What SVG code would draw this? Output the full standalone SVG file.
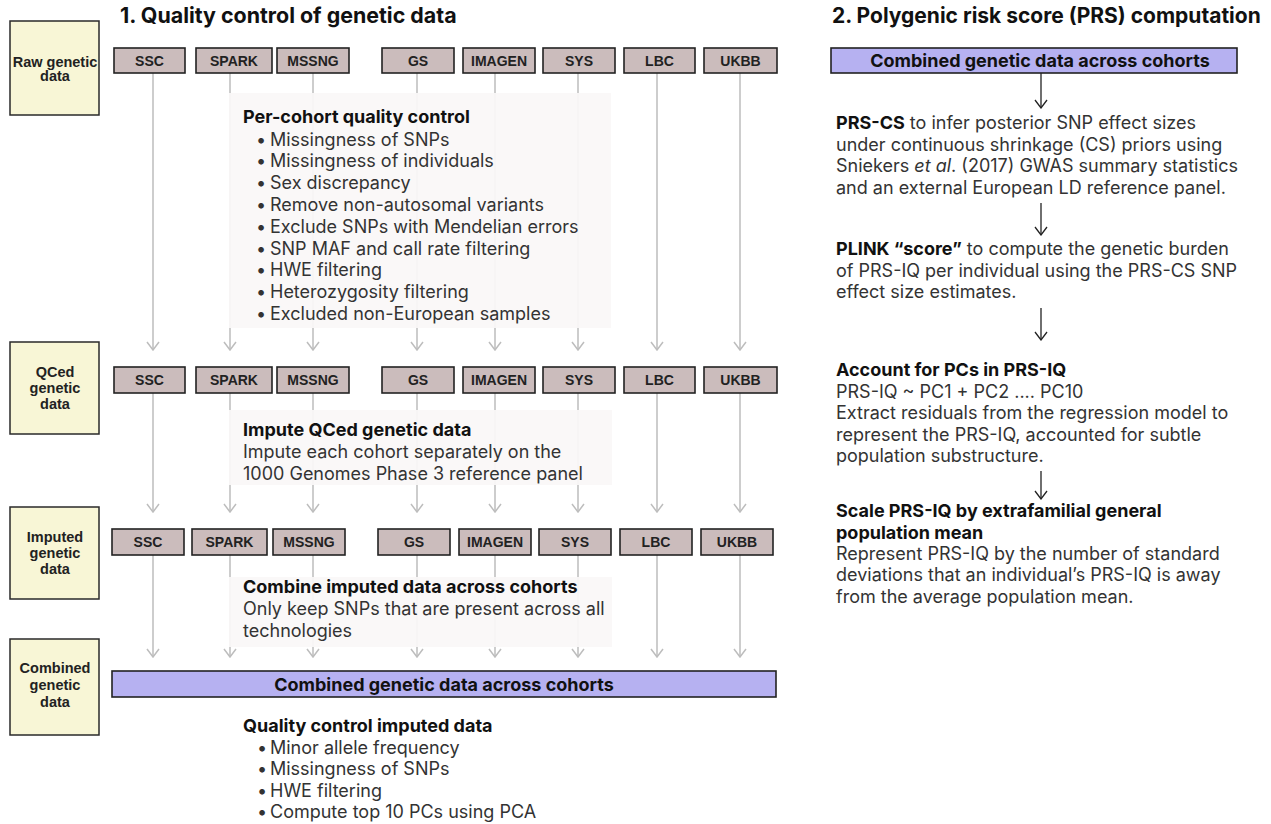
<svg xmlns="http://www.w3.org/2000/svg" width="1271" height="824" viewBox="0 0 1271 824">
<defs>
<style>
.lab{fill:#f8f6d6;stroke:#2a2a2a;stroke-width:1.5}
.labt{font-family:"Liberation Sans",Arial,sans-serif;font-weight:bold;font-size:14.5px;fill:#222;text-anchor:middle}
.coh{fill:#cbbcbc;stroke:#222;stroke-width:1.6}
.coht{font-family:"Liberation Sans",Arial,sans-serif;font-weight:bold;font-size:14px;fill:#222;text-anchor:middle}
.bar{fill:#b6b1f1;stroke:#222;stroke-width:1.6}
.bart{font-family:Inter,"Liberation Sans",sans-serif;font-weight:bold;font-size:18px;fill:#111;text-anchor:middle}
.note{fill:#faf8f8;fill-opacity:0.93}
.body{font-family:Inter,"Liberation Sans",sans-serif;font-size:18px;fill:#333}
.b{font-weight:bold;fill:#111}
.i{font-style:italic}
.title{font-family:Inter,"Liberation Sans",sans-serif;font-weight:bold;font-size:21px;fill:#111}
.gl{stroke:#bdbdbd;stroke-width:1.5;fill:none}
.bl{stroke:#222;stroke-width:1.3;fill:none}
</style>
<marker id="ag" markerUnits="userSpaceOnUse" viewBox="0 0 10 14" refX="9" refY="7" markerWidth="10" markerHeight="14" orient="auto"><path d="M1,1 L9,7 L1,13" fill="none" stroke="#bdbdbd" stroke-width="1.5"/></marker>
<marker id="ab" markerUnits="userSpaceOnUse" viewBox="0 0 10 14" refX="9" refY="7" markerWidth="10" markerHeight="14" orient="auto"><path d="M1,1 L9,7 L1,13" fill="none" stroke="#222" stroke-width="1.3"/></marker>
</defs>
<rect width="1271" height="824" fill="#fff"/>

<text class="title" x="120" y="23" style="font-size:21.4px">1. Quality control of genetic data</text>
<text class="title" x="832" y="23">2. Polygenic risk score (PRS) computation</text>

<g id="connectors">
<g class="gl" marker-end="url(#ag)">
<path d="M153,73V350"/><path d="M230,73V350"/><path d="M313,73V350"/><path d="M417,73V350"/><path d="M495,73V350"/><path d="M578,73V350"/><path d="M657,73V350"/><path d="M740,73V350"/>
<path d="M153,393V512"/><path d="M230,393V512"/><path d="M313,393V512"/><path d="M417,393V512"/><path d="M495,393V512"/><path d="M578,393V512"/><path d="M657,393V512"/><path d="M740,393V512"/>
<path d="M153,555V657"/><path d="M230,555V657"/><path d="M313,555V657"/><path d="M417,555V657"/><path d="M495,555V657"/><path d="M578,555V657"/><path d="M657,555V657"/><path d="M740,555V657"/>
</g>
<g class="bl" marker-end="url(#ab)">
<path d="M1041,73V108"/><path d="M1041,203V235"/><path d="M1041,308V340"/><path d="M1041,471V499"/>
</g>
</g>

<g id="label-raw"><rect class="lab" x="10" y="21" width="89" height="94"/><text class="labt" x="55" y="67">Raw genetic</text><text class="labt" x="55" y="81">data</text></g>
<g id="label-qced"><rect class="lab" x="10" y="342" width="89" height="92"/><text class="labt" x="55" y="377">QCed</text><text class="labt" x="55" y="393">genetic</text><text class="labt" x="55" y="409">data</text></g>
<g id="label-imputed"><rect class="lab" x="10" y="507" width="89" height="92"/><text class="labt" x="55" y="542">Imputed</text><text class="labt" x="55" y="558">genetic</text><text class="labt" x="55" y="574">data</text></g>
<g id="label-combined"><rect class="lab" x="10" y="639" width="89" height="96"/><text class="labt" x="55" y="673">Combined</text><text class="labt" x="55" y="690">genetic</text><text class="labt" x="55" y="707">data</text></g>

<g id="row1">
<g id="r1-ssc"><rect class="coh" x="114" y="48" width="71" height="25"/><text class="coht" x="149.5" y="65.5">SSC</text></g>
<g id="r1-spark"><rect class="coh" x="196" y="48" width="76" height="25"/><text class="coht" x="234" y="65.5">SPARK</text></g>
<g id="r1-mssng"><rect class="coh" x="277" y="48" width="72" height="25"/><text class="coht" x="313" y="65.5">MSSNG</text></g>
<g id="r1-gs"><rect class="coh" x="382" y="48" width="72" height="25"/><text class="coht" x="418" y="65.5">GS</text></g>
<g id="r1-imagen"><rect class="coh" x="463" y="48" width="72" height="25"/><text class="coht" x="499" y="65.5">IMAGEN</text></g>
<g id="r1-sys"><rect class="coh" x="543" y="48" width="72" height="25"/><text class="coht" x="579" y="65.5">SYS</text></g>
<g id="r1-lbc"><rect class="coh" x="624" y="48" width="71" height="25"/><text class="coht" x="659.5" y="65.5">LBC</text></g>
<g id="r1-ukbb"><rect class="coh" x="704" y="48" width="73" height="25"/><text class="coht" x="740.5" y="65.5">UKBB</text></g>
</g>
<g id="row2">
<g id="r2-ssc"><rect class="coh" x="114" y="367" width="71" height="26"/><text class="coht" x="149.5" y="385">SSC</text></g>
<g id="r2-spark"><rect class="coh" x="196" y="367" width="76" height="26"/><text class="coht" x="234" y="385">SPARK</text></g>
<g id="r2-mssng"><rect class="coh" x="277" y="367" width="72" height="26"/><text class="coht" x="313" y="385">MSSNG</text></g>
<g id="r2-gs"><rect class="coh" x="382" y="367" width="72" height="26"/><text class="coht" x="418" y="385">GS</text></g>
<g id="r2-imagen"><rect class="coh" x="463" y="367" width="72" height="26"/><text class="coht" x="499" y="385">IMAGEN</text></g>
<g id="r2-sys"><rect class="coh" x="543" y="367" width="72" height="26"/><text class="coht" x="579" y="385">SYS</text></g>
<g id="r2-lbc"><rect class="coh" x="624" y="367" width="71" height="26"/><text class="coht" x="659.5" y="385">LBC</text></g>
<g id="r2-ukbb"><rect class="coh" x="704" y="367" width="73" height="26"/><text class="coht" x="740.5" y="385">UKBB</text></g>
</g>
<g id="row3">
<g id="r3-ssc"><rect class="coh" x="112" y="529" width="72" height="26"/><text class="coht" x="148" y="547">SSC</text></g>
<g id="r3-spark"><rect class="coh" x="192" y="529" width="75" height="26"/><text class="coht" x="229.5" y="547">SPARK</text></g>
<g id="r3-mssng"><rect class="coh" x="273" y="529" width="72" height="26"/><text class="coht" x="309" y="547">MSSNG</text></g>
<g id="r3-gs"><rect class="coh" x="378" y="529" width="72" height="26"/><text class="coht" x="414" y="547">GS</text></g>
<g id="r3-imagen"><rect class="coh" x="459" y="529" width="72" height="26"/><text class="coht" x="495" y="547">IMAGEN</text></g>
<g id="r3-sys"><rect class="coh" x="539" y="529" width="72" height="26"/><text class="coht" x="575" y="547">SYS</text></g>
<g id="r3-lbc"><rect class="coh" x="620" y="529" width="72" height="26"/><text class="coht" x="656" y="547">LBC</text></g>
<g id="r3-ukbb"><rect class="coh" x="701" y="529" width="72" height="26"/><text class="coht" x="737" y="547">UKBB</text></g>
</g>

<g id="per-cohort-qc">
<rect class="note" x="229" y="93" width="382" height="235"/>
<text class="body"><tspan class="b" x="243" y="123">Per-cohort quality control</tspan>
<tspan x="256" y="145.5">•</tspan><tspan x="270">Missingness of SNPs</tspan>
<tspan x="256" y="167.3">•</tspan><tspan x="270">Missingness of individuals</tspan>
<tspan x="256" y="189.1">•</tspan><tspan x="270">Sex discrepancy</tspan>
<tspan x="256" y="210.9">•</tspan><tspan x="270">Remove non-autosomal variants</tspan>
<tspan x="256" y="232.7">•</tspan><tspan x="270">Exclude SNPs with Mendelian errors</tspan>
<tspan x="256" y="254.5">•</tspan><tspan x="270">SNP MAF and call rate filtering</tspan>
<tspan x="256" y="276.3">•</tspan><tspan x="270">HWE filtering</tspan>
<tspan x="256" y="298.1">•</tspan><tspan x="270">Heterozygosity filtering</tspan>
<tspan x="256" y="319.9">•</tspan><tspan x="270">Excluded non-European samples</tspan></text>
</g>

<g id="impute-qced">
<rect class="note" x="229" y="410" width="383" height="75"/>
<text class="body"><tspan class="b" x="243" y="436">Impute QCed genetic data</tspan>
<tspan x="243" y="458">Impute each cohort separately on the</tspan>
<tspan x="243" y="480">1000 Genomes Phase 3 reference panel</tspan></text>
</g>

<g id="combine-imputed">
<rect class="note" x="229" y="577" width="383" height="70"/>
<text class="body"><tspan class="b" x="243" y="593">Combine imputed data across cohorts</tspan>
<tspan x="243" y="615">Only keep SNPs that are present across all</tspan>
<tspan x="243" y="637">technologies</tspan></text>
</g>

<g id="combined-bar">
<rect class="bar" x="112" y="671" width="664" height="26"/>
<text class="bart" x="444" y="690.5">Combined genetic data across cohorts</text>
</g>

<g id="qc-imputed">
<text class="body"><tspan class="b" x="243" y="732">Quality control imputed data</tspan>
<tspan x="257" y="753.5">•</tspan><tspan x="270">Minor allele frequency</tspan>
<tspan x="257" y="775">•</tspan><tspan x="270">Missingness of SNPs</tspan>
<tspan x="257" y="796.5">•</tspan><tspan x="270">HWE filtering</tspan>
<tspan x="257" y="818">•</tspan><tspan x="270">Compute top 10 PCs using PCA</tspan></text>
</g>

<g id="prs-bar">
<rect class="bar" x="831" y="48" width="406" height="25"/>
<text class="bart" x="1040" y="66.5">Combined genetic data across cohorts</text>
</g>

<g id="prs-cs">
<text class="body"><tspan x="836" y="129"><tspan class="b">PRS-CS</tspan> to infer posterior SNP effect sizes</tspan>
<tspan x="836" y="150.5">under continuous shrinkage (CS) priors using</tspan>
<tspan x="836" y="172">Sniekers <tspan class="i">et al</tspan>. (2017) GWAS summary statistics</tspan>
<tspan x="836" y="193.5">and an external European LD reference panel.</tspan></text>
</g>

<g id="plink">
<text class="body"><tspan x="836" y="255"><tspan class="b">PLINK “score”</tspan> to compute the genetic burden</tspan>
<tspan x="836" y="276.5">of PRS-IQ per individual using the PRS-CS SNP</tspan>
<tspan x="836" y="298">effect size estimates.</tspan></text>
</g>

<g id="account-pcs">
<text class="body"><tspan class="b" x="836" y="376">Account for PCs in PRS-IQ</tspan>
<tspan x="836" y="397.5">PRS-IQ ~ PC1 + PC2 .... PC10</tspan>
<tspan x="836" y="419">Extract residuals from the regression model to</tspan>
<tspan x="836" y="440.5">represent the PRS-IQ, accounted for subtle</tspan>
<tspan x="836" y="462">population substructure.</tspan></text>
</g>

<g id="scale-prs">
<text class="body"><tspan class="b" x="836" y="517">Scale PRS-IQ by extrafamilial general</tspan>
<tspan class="b" x="836" y="538.5">population mean</tspan>
<tspan x="836" y="560">Represent PRS-IQ by the number of standard</tspan>
<tspan x="836" y="581">deviations that an individual’s PRS-IQ is away</tspan>
<tspan x="836" y="602.5">from the average population mean.</tspan></text>
</g>
</svg>
